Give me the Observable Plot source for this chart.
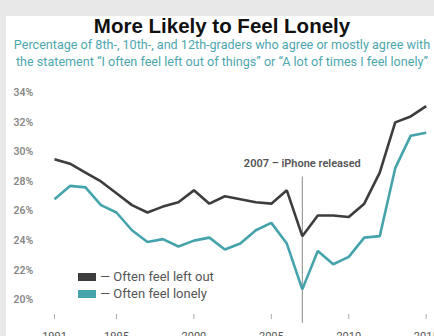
<!DOCTYPE html>
<html>
<head>
<meta charset="utf-8">
<script src="https://cdn.jsdelivr.net/npm/d3@7"></script>
<script src="https://cdn.jsdelivr.net/npm/@observablehq/plot@0.6"></script>
<style>
  html, body { margin: 0; padding: 0; background: #e8e8e8; width: 434px; height: 336px; overflow: hidden; }
  #panel { position: absolute; left: 6px; top: 16px; width: 428px; height: 320px; background: #fff; overflow: hidden; }
  #title { position: absolute; left: 0; top: 0; width: 432px; text-align: center; font-family: "Liberation Sans", Arial, sans-serif; font-weight: bold; font-size: 20.5px; color: #111; line-height: 20px; }
  #subtitle { position: absolute; left: 0; top: 20px; width: 432px; text-align: center; font-family: Roboto, "Noto Sans", sans-serif; font-size: 12.6px; color: #4ea7ae; line-height: 17px; white-space: nowrap; }
  #chart { position: absolute; left: 0; top: 0; }
  #legend { position: absolute; left: 72px; top: 252px; font-family: Roboto, "Noto Sans", sans-serif; font-size: 13px; color: #555; }
  .item { display: flex; align-items: center; height: 17px; }
  .sw { width: 18px; height: 8px; margin-right: 4px; }
</style>
</head>
<body>
<div id="panel">
  <div id="chart"></div>
  <div id="title">More Likely to Feel Lonely</div>
  <div id="subtitle">Percentage of 8th-, 10th-, and 12th-graders who agree or mostly agree with<br>the statement “I often feel left out of things” or “A lot of times I feel lonely”</div>
  <div id="legend"></div>
</div>
<script>
const years = d3.range(1991, 2016);
const leftOut = [29.5, 29.2, 28.6, 28.0, 27.2, 26.4, 25.9, 26.3, 26.6, 27.4, 26.5, 27.0, 26.8, 26.6, 26.5, 27.4, 24.3, 25.7, 25.7, 25.6, 26.5, 28.6, 32.0, 32.4, 33.1];
const lonely  = [26.8, 27.7, 27.6, 26.4, 25.9, 24.7, 23.9, 24.1, 23.6, 24.0, 24.2, 23.4, 23.8, 24.7, 25.2, 23.8, 20.7, 23.3, 22.4, 22.9, 24.2, 24.3, 28.9, 31.1, 31.3];
const seriesNames = ["Often feel left out", "Often feel lonely"];
const seriesColors = ["#3d3d3d", "#45a3ab"];
const yTicks = [20, 22, 24, 26, 28, 30, 32, 34];
const xTicks = [1991, 1995, 2000, 2005, 2010, 2015];
const annotation = [{year: 2007, label: "2007 – iPhone released", textY: 29.2, top: 28.3, bottom: 18.4}];

const data = [];
years.forEach((y, i) => {
  data.push({year: y, value: leftOut[i], series: seriesNames[0]});
  data.push({year: y, value: lonely[i], series: seriesNames[1]});
});

const plot = Plot.plot({
  width: 428,
  height: 336,
  marginLeft: 48,
  marginRight: 8.3,
  marginTop: 76.3,
  marginBottom: 38,
  style: {background: "transparent", fontFamily: "Roboto, 'Noto Sans', sans-serif"},
  x: {domain: [1991, 2015], axis: null},
  y: {domain: [19.0, 34], axis: null},
  color: {domain: seriesNames, range: seriesColors},
  marks: [
    Plot.ruleX(annotation, {x: "year", y1: "top", y2: "bottom", stroke: "#888", strokeWidth: 1}),
    Plot.text(annotation, {x: "year", y: "textY", text: "label", fill: "#555", fontSize: 11, fontWeight: 600}),
    Plot.axisX({ticks: xTicks, tickFormat: d => String(d), tickSize: 5, tickPadding: 13, stroke: "#aaa", color: "#555", fontSize: 11}),
    Plot.text(yTicks, {x: 1991, y: d => d, text: d => d + "%", frameAnchor: "left", dx: -41, textAnchor: "start", fill: "#888", fontSize: 10.5, fontWeight: 600, ariaLabel: "ylabels"}),
    Plot.line(data, {x: "year", y: "value", z: "series", stroke: "series", strokeWidth: 2.6, strokeLinejoin: "miter", strokeLinecap: "butt"})
  ]
});
document.getElementById("chart").appendChild(plot);
// underline the y labels, derived from each label's own box
const ylab = d3.select(plot).select('g[aria-label="ylabels"]');
ylab.selectAll("text").each(function () {
  const b = this.getBBox();
  const t = this.getAttribute("transform");
  ylab.append("line")
    .attr("transform", t)
    .attr("x1", b.x).attr("x2", b.x + b.width)
    .attr("y1", b.y + b.height - 1.5).attr("y2", b.y + b.height - 1.5)
    .attr("stroke", "#aaa").attr("stroke-width", 0.8);
});

const legend = d3.select("#legend");
seriesNames.forEach((n, i) => {
  const it = legend.append("div").attr("class", "item");
  it.append("div").attr("class", "sw").style("background", seriesColors[i]);
  it.append("span").text("— " + n);
});
</script>
</body>
</html>
